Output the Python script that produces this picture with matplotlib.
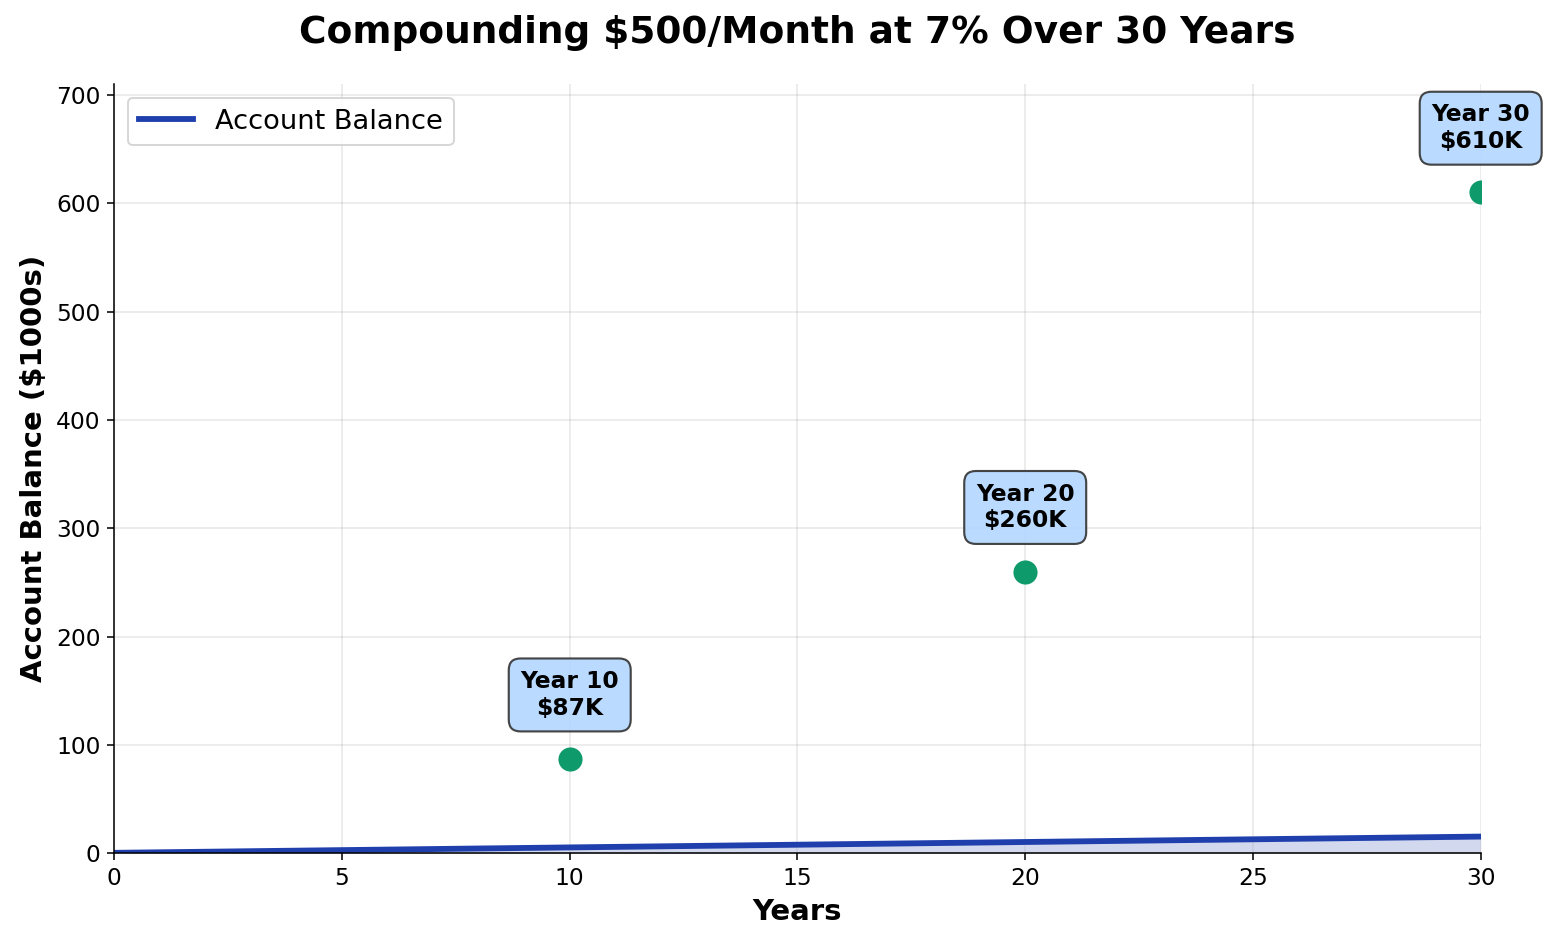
import matplotlib
matplotlib.use('Agg')
from matplotlib import pyplot as plt

# Data (balance in $1000s)
years = list(range(0, 31))
balance = [0.5, 1.0, 1.5, 2.0, 2.5, 3.0, 3.5, 4.0, 4.5, 5.0,
           5.5, 6.0, 6.5, 7.0, 7.5, 8.0, 8.5, 9.0, 9.5, 10.0,
           10.5, 11.0, 11.5, 12.0, 12.5, 13.0, 13.5, 14.0, 14.5, 15.0,
           15.5]
milestone_years = [10, 20, 30]
milestone_values = [87, 260, 610]
milestone_labels = ['Year 10\n$87K', 'Year 20\n$260K', 'Year 30\n$610K']

fig, ax = plt.subplots(figsize=(1544 / 140, 944 / 140), dpi=140)
fig.subplots_adjust(left=0.074, right=0.959, top=0.911, bottom=0.096)

ax.plot(years, balance, color='#1f3fad', linewidth=3, label='Account Balance')
ax.fill_between(years, balance, color='#1f3fad', alpha=0.2, linewidth=0)

ax.scatter(milestone_years, milestone_values, s=130, color='#0e9a6b',
           zorder=5)
for x, y, lab in zip(milestone_years, milestone_values, milestone_labels):
    ax.annotate(lab, xy=(x, y), xytext=(0, 33), textcoords='offset points',
                ha='center', va='center', fontsize=12, fontweight='bold',
                bbox=dict(boxstyle='round,pad=0.5', facecolor='#b3d7ff',
                          edgecolor='#333333', linewidth=1.1, alpha=0.9),
                zorder=6)

ax.set_xlim(0, 30)
ax.set_ylim(0, 710)
ax.set_xlabel('Years', fontsize=15, fontweight='bold')
ax.set_ylabel('Account Balance ($1000s)', fontsize=15, fontweight='bold')
ax.set_title('Compounding $500/Month at 7% Over 30 Years', fontsize=19.3,
             fontweight='bold', pad=21)
ax.tick_params(labelsize=12)
ax.grid(True, alpha=0.3)
ax.spines['top'].set_visible(False)
ax.spines['right'].set_visible(False)
ax.legend(loc='upper left', fontsize=14)

fig.savefig('out.png')
plt.close(fig)
